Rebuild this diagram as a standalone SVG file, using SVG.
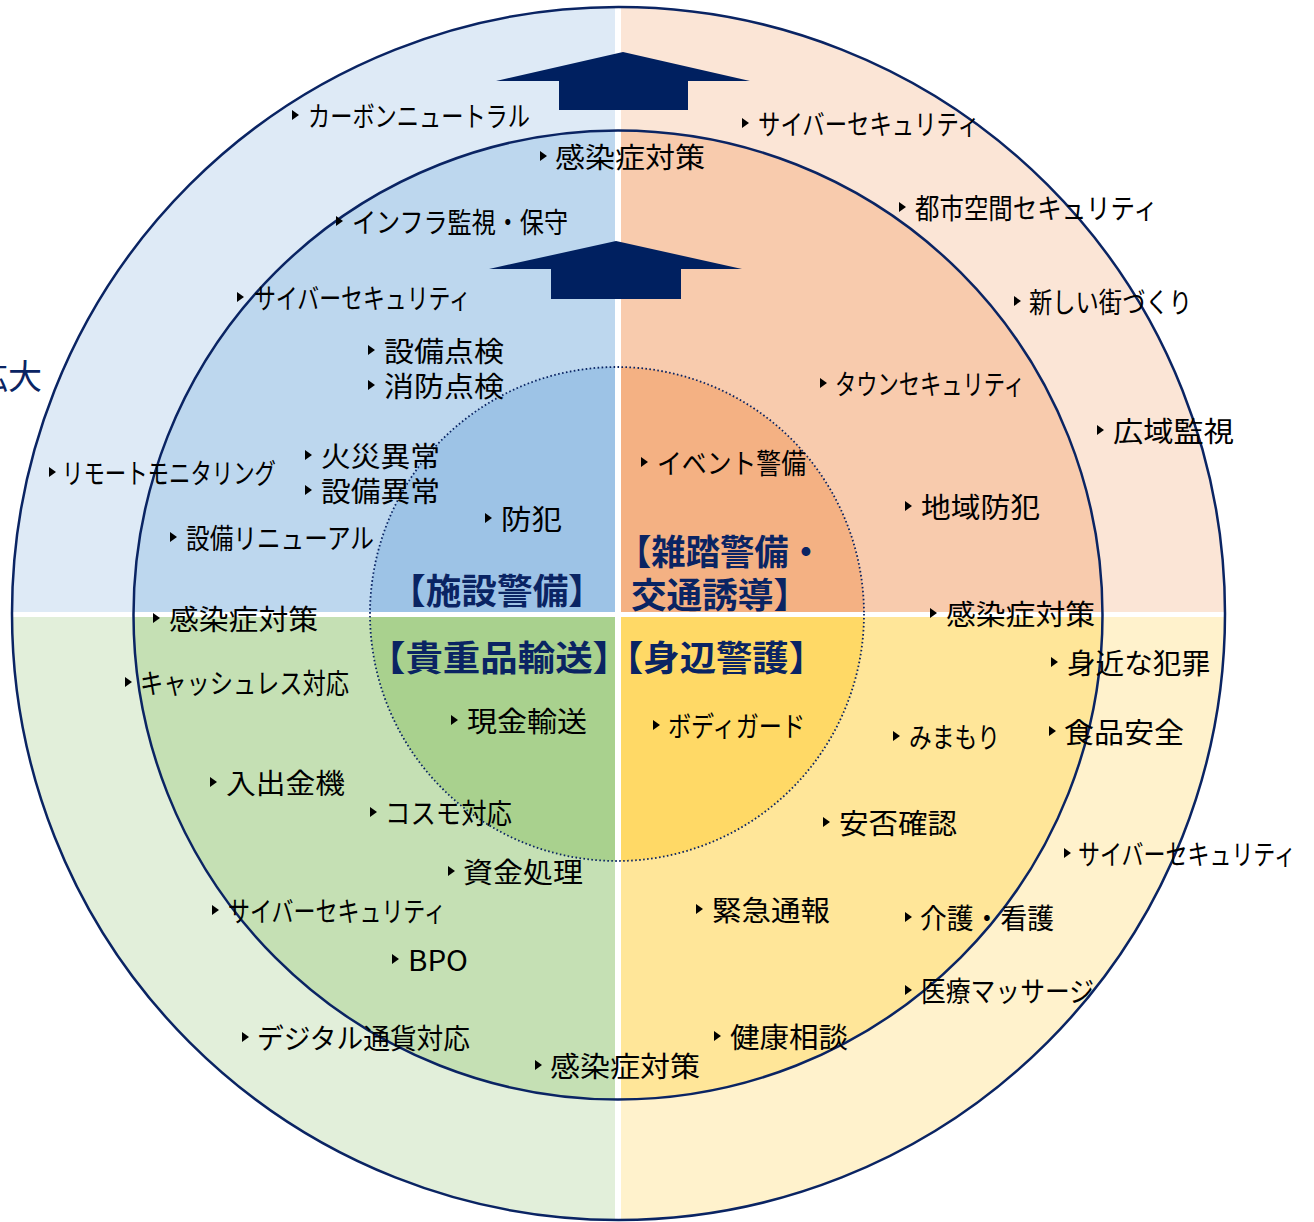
<svg xmlns="http://www.w3.org/2000/svg" xmlns:xlink="http://www.w3.org/1999/xlink" width="1314" height="1222" viewBox="0 0 1314 1222">
<defs>
<style>
.t{font-family:"Noto Sans CJK JP","Noto Sans",sans-serif;font-size:28px;fill:#000;dominant-baseline:central}
.h{font-family:"Noto Sans CJK JP","Noto Sans",sans-serif;font-size:35px;font-weight:bold;fill:#0a2463;dominant-baseline:central}
.ring{fill:none;stroke:#0a2463;stroke-width:2.5}
.dot{fill:none;stroke:#0a2463;stroke-width:1.8;stroke-dasharray:1.6 2.4}
.arrow{fill:#002060}
</style>
<polygon id="b" points="0,-5 7,0 0,5" fill="#000"/>
<clipPath id="cTL"><rect x="0" y="0" width="615" height="612"/></clipPath>
<clipPath id="cTR"><rect x="621" y="0" width="693" height="612"/></clipPath>
<clipPath id="cBL"><rect x="0" y="617" width="615" height="605"/></clipPath>
<clipPath id="cBR"><rect x="621" y="617" width="693" height="605"/></clipPath>
</defs>
<rect width="1314" height="1222" fill="#fff"/>
<g id="quadrant-tl" clip-path="url(#cTL)">
<circle cx="618.5" cy="613.5" r="606.5" fill="#DEEAF6"/>
<circle cx="618" cy="615" r="484.5" fill="#BDD7EE"/>
<circle cx="617" cy="614" r="247" fill="#9DC3E6"/>
</g>
<g id="quadrant-tr" clip-path="url(#cTR)">
<circle cx="618.5" cy="613.5" r="606.5" fill="#FBE5D6"/>
<circle cx="618" cy="615" r="484.5" fill="#F8CBAD"/>
<circle cx="617" cy="614" r="247" fill="#F4B183"/>
</g>
<g id="quadrant-bl" clip-path="url(#cBL)">
<circle cx="618.5" cy="613.5" r="606.5" fill="#E2EFDA"/>
<circle cx="618" cy="615" r="484.5" fill="#C5E0B4"/>
<circle cx="617" cy="614" r="247" fill="#A9D18E"/>
</g>
<g id="quadrant-br" clip-path="url(#cBR)">
<circle cx="618.5" cy="613.5" r="606.5" fill="#FFF2CC"/>
<circle cx="618" cy="615" r="484.5" fill="#FFE699"/>
<circle cx="617" cy="614" r="247" fill="#FFD966"/>
</g>
<g id="rings">
<circle class="ring" cx="618.5" cy="613.5" r="606.5"/>
<circle class="ring" cx="618" cy="615" r="484.5"/>
<circle class="dot" cx="617" cy="614" r="247"/>
</g>
<g id="connectors">
<polygon class="arrow" points="496,81 623,52 750,81 688,81 688,110 559,110 559,81"/>
<polygon class="arrow" points="489,269 616,241 742,269 681,269 681,299 551,299 551,269"/>
</g>
<g id="expand-label"><text x="42" y="374" text-anchor="end" style="font-family:'Noto Sans CJK JP',sans-serif;font-size:34px;fill:#0a2463;dominant-baseline:central">拡大</text></g>
<g id="head-facility"><text class="h" x="390" y="588" textLength="214" lengthAdjust="spacingAndGlyphs">【施設警備】</text></g>
<g id="head-crowd">
<text class="h" x="617" y="549" textLength="206" lengthAdjust="spacingAndGlyphs">【雑踏警備・</text>
<text class="h" x="631" y="592" textLength="178" lengthAdjust="spacingAndGlyphs">交通誘導】</text>
</g>
<g id="head-valuables"><text class="h" x="368" y="655" textLength="262" lengthAdjust="spacingAndGlyphs">【貴重品輸送】</text></g>
<g id="head-personal"><text class="h" x="607" y="655" textLength="218" lengthAdjust="spacingAndGlyphs">【身辺警護】</text></g>

<g id="n1"><use href="#b" x="292" y="115"/><text class="t" x="308" y="115" textLength="222" lengthAdjust="spacingAndGlyphs">カーボンニュートラル</text></g>
<g id="n2"><use href="#b" x="540" y="156"/><text class="t" x="555" y="156" textLength="150" lengthAdjust="spacingAndGlyphs">感染症対策</text></g>
<g id="n3"><use href="#b" x="336" y="221"/><text class="t" x="352" y="221" textLength="216" lengthAdjust="spacingAndGlyphs">インフラ監視・保守</text></g>
<g id="n4"><use href="#b" x="237" y="297"/><text class="t" x="254" y="297" textLength="217" lengthAdjust="spacingAndGlyphs">サイバーセキュリティ</text></g>
<g id="n5"><use href="#b" x="368" y="350"/><text class="t" x="384" y="350" textLength="120" lengthAdjust="spacingAndGlyphs">設備点検</text></g>
<g id="n6"><use href="#b" x="368" y="385"/><text class="t" x="384" y="385" textLength="120" lengthAdjust="spacingAndGlyphs">消防点検</text></g>
<g id="n7"><use href="#b" x="49" y="472"/><text class="t" x="62" y="472" textLength="214" lengthAdjust="spacingAndGlyphs">リモートモニタリング</text></g>
<g id="n8"><use href="#b" x="305" y="455"/><text class="t" x="321" y="455" textLength="119" lengthAdjust="spacingAndGlyphs">火災異常</text></g>
<g id="n9"><use href="#b" x="305" y="490"/><text class="t" x="321" y="490" textLength="119" lengthAdjust="spacingAndGlyphs">設備異常</text></g>
<g id="n10"><use href="#b" x="485" y="518"/><text class="t" x="501" y="518" textLength="61" lengthAdjust="spacingAndGlyphs">防犯</text></g>
<g id="n11"><use href="#b" x="170" y="537"/><text class="t" x="186" y="537" textLength="188" lengthAdjust="spacingAndGlyphs">設備リニューアル</text></g>
<g id="n12"><use href="#b" x="153" y="618"/><text class="t" x="169" y="618" textLength="149" lengthAdjust="spacingAndGlyphs">感染症対策</text></g>

<g id="n13"><use href="#b" x="125" y="682"/><text class="t" x="140" y="682" textLength="209" lengthAdjust="spacingAndGlyphs">キャッシュレス対応</text></g>
<g id="n14"><use href="#b" x="451" y="720"/><text class="t" x="467" y="720" textLength="120" lengthAdjust="spacingAndGlyphs">現金輸送</text></g>
<g id="n15"><use href="#b" x="210" y="782"/><text class="t" x="226" y="782" textLength="119" lengthAdjust="spacingAndGlyphs">入出金機</text></g>
<g id="n16"><use href="#b" x="370" y="812"/><text class="t" x="385" y="812" textLength="127" lengthAdjust="spacingAndGlyphs">コスモ対応</text></g>
<g id="n17"><use href="#b" x="448" y="871"/><text class="t" x="463" y="871" textLength="120" lengthAdjust="spacingAndGlyphs">資金処理</text></g>
<g id="n18"><use href="#b" x="212" y="910"/><text class="t" x="228" y="910" textLength="218" lengthAdjust="spacingAndGlyphs">サイバーセキュリティ</text></g>
<g id="n19"><use href="#b" x="392" y="959"/><text class="t" x="408" y="959" textLength="60" lengthAdjust="spacingAndGlyphs">BPO</text></g>
<g id="n20"><use href="#b" x="242" y="1037"/><text class="t" x="257" y="1037" textLength="213" lengthAdjust="spacingAndGlyphs">デジタル通貨対応</text></g>
<g id="n21"><use href="#b" x="535" y="1065"/><text class="t" x="550" y="1065" textLength="150" lengthAdjust="spacingAndGlyphs">感染症対策</text></g>

<g id="n22"><use href="#b" x="742" y="123"/><text class="t" x="758" y="123" textLength="222" lengthAdjust="spacingAndGlyphs">サイバーセキュリティ</text></g>
<g id="n23"><use href="#b" x="899" y="207"/><text class="t" x="915" y="207" textLength="243" lengthAdjust="spacingAndGlyphs">都市空間セキュリティ</text></g>
<g id="n24"><use href="#b" x="1014" y="301"/><text class="t" x="1029" y="301" textLength="163" lengthAdjust="spacingAndGlyphs">新しい街づくり</text></g>
<g id="n25"><use href="#b" x="820" y="383"/><text class="t" x="835" y="383" textLength="190" lengthAdjust="spacingAndGlyphs">タウンセキュリティ</text></g>
<g id="n26"><use href="#b" x="1097" y="430"/><text class="t" x="1113" y="430" textLength="121" lengthAdjust="spacingAndGlyphs">広域監視</text></g>
<g id="n27"><use href="#b" x="641" y="462"/><text class="t" x="657" y="462" textLength="149" lengthAdjust="spacingAndGlyphs">イベント警備</text></g>
<g id="n28"><use href="#b" x="905" y="506"/><text class="t" x="921" y="506" textLength="119" lengthAdjust="spacingAndGlyphs">地域防犯</text></g>
<g id="n29"><use href="#b" x="930" y="613"/><text class="t" x="946" y="613" textLength="149" lengthAdjust="spacingAndGlyphs">感染症対策</text></g>

<g id="n30"><use href="#b" x="1051" y="662"/><text class="t" x="1067" y="662" textLength="143" lengthAdjust="spacingAndGlyphs">身近な犯罪</text></g>
<g id="n31"><use href="#b" x="653" y="725"/><text class="t" x="668" y="725" textLength="137" lengthAdjust="spacingAndGlyphs">ボディガード</text></g>
<g id="n32"><use href="#b" x="893" y="736"/><text class="t" x="909" y="736" textLength="91" lengthAdjust="spacingAndGlyphs">みまもり</text></g>
<g id="n33"><use href="#b" x="1049" y="731"/><text class="t" x="1064" y="731" textLength="120" lengthAdjust="spacingAndGlyphs">食品安全</text></g>
<g id="n34"><use href="#b" x="823" y="822"/><text class="t" x="839" y="822" textLength="118" lengthAdjust="spacingAndGlyphs">安否確認</text></g>
<g id="n35"><use href="#b" x="1064" y="853"/><text class="t" x="1078" y="853" textLength="218" lengthAdjust="spacingAndGlyphs">サイバーセキュリティ</text></g>
<g id="n36"><use href="#b" x="696" y="909"/><text class="t" x="712" y="909" textLength="118" lengthAdjust="spacingAndGlyphs">緊急通報</text></g>
<g id="n37"><use href="#b" x="905" y="917"/><text class="t" x="920" y="917" textLength="134" lengthAdjust="spacingAndGlyphs">介護・看護</text></g>
<g id="n38"><use href="#b" x="905" y="990"/><text class="t" x="921" y="990" textLength="173" lengthAdjust="spacingAndGlyphs">医療マッサージ</text></g>
<g id="n39"><use href="#b" x="714" y="1036"/><text class="t" x="730" y="1036" textLength="118" lengthAdjust="spacingAndGlyphs">健康相談</text></g>
</svg>
